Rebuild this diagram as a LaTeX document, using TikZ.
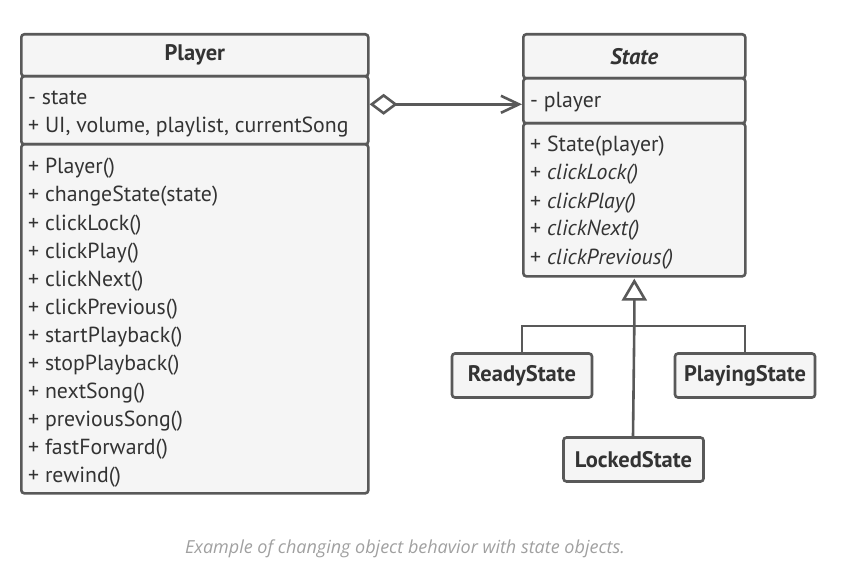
\documentclass[tikz,border=0pt]{standalone}
\usepackage{fontspec}
\setmainfont{PT Sans}
\newfontfamily\capfont{Open Sans}
\usetikzlibrary{arrows.meta,calc}
\definecolor{strokec}{HTML}{595959}
\definecolor{fillc}{HTML}{F5F5F5}
\definecolor{textc}{HTML}{333333}
\definecolor{capc}{HTML}{A0A0A0}
\tikzset{
  part/.style={draw=strokec, fill=fillc, line width=2.6pt, rounded corners=3pt, inner sep=0pt, anchor=north west},
  title/.style={font=\fontsize{22.5}{26}\selectfont\bfseries, text=textc, inner sep=0pt},
  member/.style={font=\fontsize{21.8}{26}\selectfont, text=textc, inner sep=0pt, anchor=base west},
  conn/.style={draw=strokec, line width=2.6pt},
}
\begin{document}
\begin{tikzpicture}[x=1pt,y=-1pt]
\useasboundingbox (0,0) rectangle (850,569);
% Player
\node[part, minimum width=347pt, minimum height=42pt] (phead) at (20,33) {};
\node[part, minimum width=347pt, minimum height=68pt] (pattr) at (20,75) {};
\node[part, minimum width=347pt, minimum height=349pt] (pmeth) at (20,143) {};
\node[title] (ptitle) at (phead.center) {Player};
\node[member] (pa1) at (28,105) {- state};
\node[member] (pa2) at (28,133) {+ UI, volume, playlist, currentSong};
\foreach \t [count=\i from 0] in {+ Player(), + changeState(state), + clickLock(), + clickPlay(), + clickNext(), + clickPrevious(), + startPlayback(), + stopPlayback(), + nextSong(), + previousSong(), + fastForward(), + rewind()}
  \node[member] (pm\i) at (28,174+28*\i) {\t};
% State
\node[part, minimum width=222pt, minimum height=44pt] (shead) at (522,33) {};
\node[part, minimum width=222pt, minimum height=45pt] (sattr) at (522,77) {};
\node[part, minimum width=222pt, minimum height=153pt] (smeth) at (522,122) {};
\node[title, font=\fontsize{22.5}{26}\selectfont\bfseries\itshape] (stitle) at (shead.center) {State};
\node[member] (sa1) at (530,108) {- player};
\node[member] (sm0) at (530,152) {+ State(player)};
\foreach \t [count=\i from 1] in {clickLock(), clickPlay(), clickNext(), clickPrevious()}
  \node[member] (sm\i) at (530,152+28*\i) {+ \textit{\t}};
% Subclasses
\node[part, anchor=center, minimum width=140pt, minimum height=44pt, title] (ready) at (522,375.5) {ReadyState};
\node[part, anchor=center, minimum width=140pt, minimum height=44pt, title] (playing) at (745,375.5) {PlayingState};
\node[part, anchor=center, minimum width=140pt, minimum height=44pt, title] (locked) at (633.5,459.5) {LockedState};
% Connectors
\coordinate (join) at (633,326);
\draw[conn, -{Triangle[open, length=22pt, width=25pt, line width=2.6pt]}] (locked.north -| join) -- (join -| smeth.south) -- ([yshift=-1pt]smeth.south);
\draw[conn] (ready.north) |- (join) -| (playing.north);
\draw[conn, {Diamond[open, length=28pt, width=21pt, line width=2.6pt]}-{Straight Barb[length=18pt, width=17pt, line width=2.6pt]}] ([yshift=-3.5pt]pattr.east |- sattr.west) -- ([yshift=-3.5pt]sattr.west);
% Caption
\node[font=\capfont\itshape\fontsize{18}{21}\selectfont, text=capc, anchor=base] (cap) at (405,553) {Example of changing object behavior with state objects.};
\end{tikzpicture}
\end{document}
